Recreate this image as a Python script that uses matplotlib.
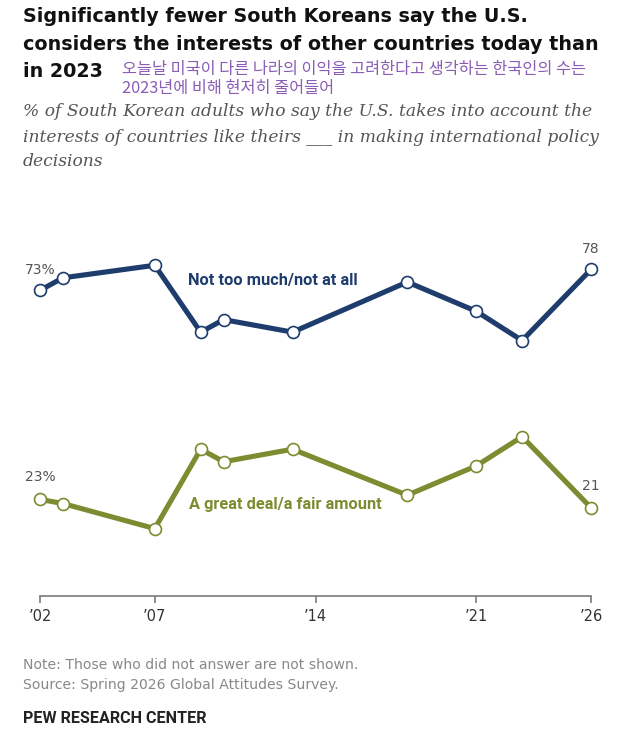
import matplotlib
matplotlib.use("Agg")
import matplotlib.pyplot as plt

# ---- data ----
years = [2002, 2003, 2007, 2009, 2010, 2013, 2018, 2021, 2023, 2026]
not_too_much = [73, 76, 79, 63, 66, 63, 75, 68, 61, 78]
great_deal = [23, 22, 16, 35, 32, 35, 24, 31, 38, 21]
tick_years = [2002, 2007, 2014, 2021, 2026]
tick_labels = ["\u201902", "\u201907", "\u201914", "\u201921", "\u201926"]

title_lines = ["Significantly fewer South Koreans say the U.S.",
               "considers the interests of other countries today than",
               "in 2023"]
korean_lines = ["오늘날 미국이 다른 나라의 이익을 고려한다고 생각하는 한국인의 수는",
                "2023년에 비해 현저히 줄어들어"]
subtitle_lines = ["% of South Korean adults who say the U.S. takes into account the",
                  "interests of countries like theirs ___ in making international policy",
                  "decisions"]
note_lines = ["Note: Those who did not answer are not shown.",
              "Source: Spring 2026 Global Attitudes Survey."]
credit = "PEW RESEARCH CENTER"

BLUE = "#1e3d6d"
GREEN = "#7b8d30"
PURPLE = "#8a5cb5"

W, H = 620, 730
fig = plt.figure(figsize=(W / 100, H / 100), dpi=100)
fig.patch.set_facecolor("white")
renderer = fig.canvas.get_renderer()


def fx(px):
    return px / W


def fy(py):
    return 1 - py / H


def fitted_size(s, target_w, **kw):
    t = fig.text(0, 0, s, fontsize=10, **kw)
    w = t.get_window_extent(renderer).width
    t.remove()
    return 10 * target_w / w


# ---- axes ----
ax = fig.add_axes([fx(40), fy(595.5), fx(591) - fx(40), (595.5 - 177.5) / H])
ax.set_xlim(2002, 2026)
ax.set_ylim(0, 100)
for s in ["top", "right", "left"]:
    ax.spines[s].set_visible(False)
ax.spines["bottom"].set_color("#7a7a7a")
ax.spines["bottom"].set_linewidth(1.2)
ax.set_yticks([])
ax.set_xticks(tick_years)
ax.set_xticklabels(tick_labels, fontsize=10.5, color="#333333", family="DejaVu Sans")
ax.tick_params(axis="x", direction="out", length=5, width=1.2, color="#7a7a7a", pad=5)

for vals, col in [(not_too_much, BLUE), (great_deal, GREEN)]:
    ax.plot(years, vals, color=col, lw=3.7, solid_joinstyle="round", zorder=2, clip_on=False)
    ax.plot(years, vals, ls="none", marker="o", ms=8.6, mfc="white", mec=col, mew=1.2,
            zorder=3, clip_on=False)

# data labels
lab_kw = dict(fontsize=10, color="#555555", family="DejaVu Sans", ha="center", va="center")
ax.annotate(f"{not_too_much[0]}%", (years[0], not_too_much[0]), xytext=(0, 20),
            textcoords="offset pixels", **lab_kw)
ax.annotate(f"{not_too_much[-1]}", (years[-1], not_too_much[-1]), xytext=(0, 20),
            textcoords="offset pixels", **lab_kw)
ax.annotate(f"{great_deal[0]}%", (years[0], great_deal[0]), xytext=(0, 22),
            textcoords="offset pixels", **lab_kw)
ax.annotate(f"{great_deal[-1]}", (years[-1], great_deal[-1]), xytext=(0, 22),
            textcoords="offset pixels", **lab_kw)

# series labels
lbl_kw = dict(fontweight="bold", family="Roboto")
fig.text(fx(188), fy(280), "Not too much/not at all",
         fontsize=fitted_size("Not too much/not at all", 170, **lbl_kw),
         color=BLUE, ha="left", va="center", **lbl_kw)
fig.text(fx(189), fy(505), "A great deal/a fair amount",
         fontsize=fitted_size("A great deal/a fair amount", 194, **lbl_kw),
         color=GREEN, ha="left", va="center", **lbl_kw)

# ---- title ----
t_kw = dict(fontweight="bold", family="DejaVu Sans")
t_size = fitted_size(title_lines[1], 575, **t_kw)
for txt, py in zip(title_lines, [21.7, 50, 76.7]):
    fig.text(fx(23), fy(py), txt, fontsize=t_size, color="#111111",
             ha="left", va="baseline", **t_kw)

k_kw = dict(family=["Noto Sans CJK KR", "DejaVu Sans"])
k_size = fitted_size(korean_lines[0], 463, **k_kw)
for txt, py in zip(korean_lines, [74, 93]):
    fig.text(fx(122), fy(py), txt, fontsize=k_size, color=PURPLE,
             ha="left", va="baseline", **k_kw)

s_kw = dict(style="italic", family="DejaVu Serif")
s_size = fitted_size(subtitle_lines[0], 567, **s_kw)
for txt, py in zip(subtitle_lines, [116, 142.5, 166.5]):
    fig.text(fx(23), fy(py), txt, fontsize=s_size, color="#555555",
             ha="left", va="baseline", **s_kw)

# ---- footer ----
n_kw = dict(family="DejaVu Sans")
n_size = fitted_size(note_lines[0], 334, **n_kw)
for txt, py in zip(note_lines, [669, 689]):
    fig.text(fx(23), fy(py), txt, fontsize=n_size, color="#888888",
             ha="left", va="baseline", **n_kw)
c_kw = dict(fontweight="bold", family="Roboto")
fig.text(fx(23), fy(723), credit, fontsize=fitted_size(credit, 183, **c_kw),
         color="#222222", ha="left", va="baseline", **c_kw)

fig.savefig("out.png", dpi=100, facecolor="white")
